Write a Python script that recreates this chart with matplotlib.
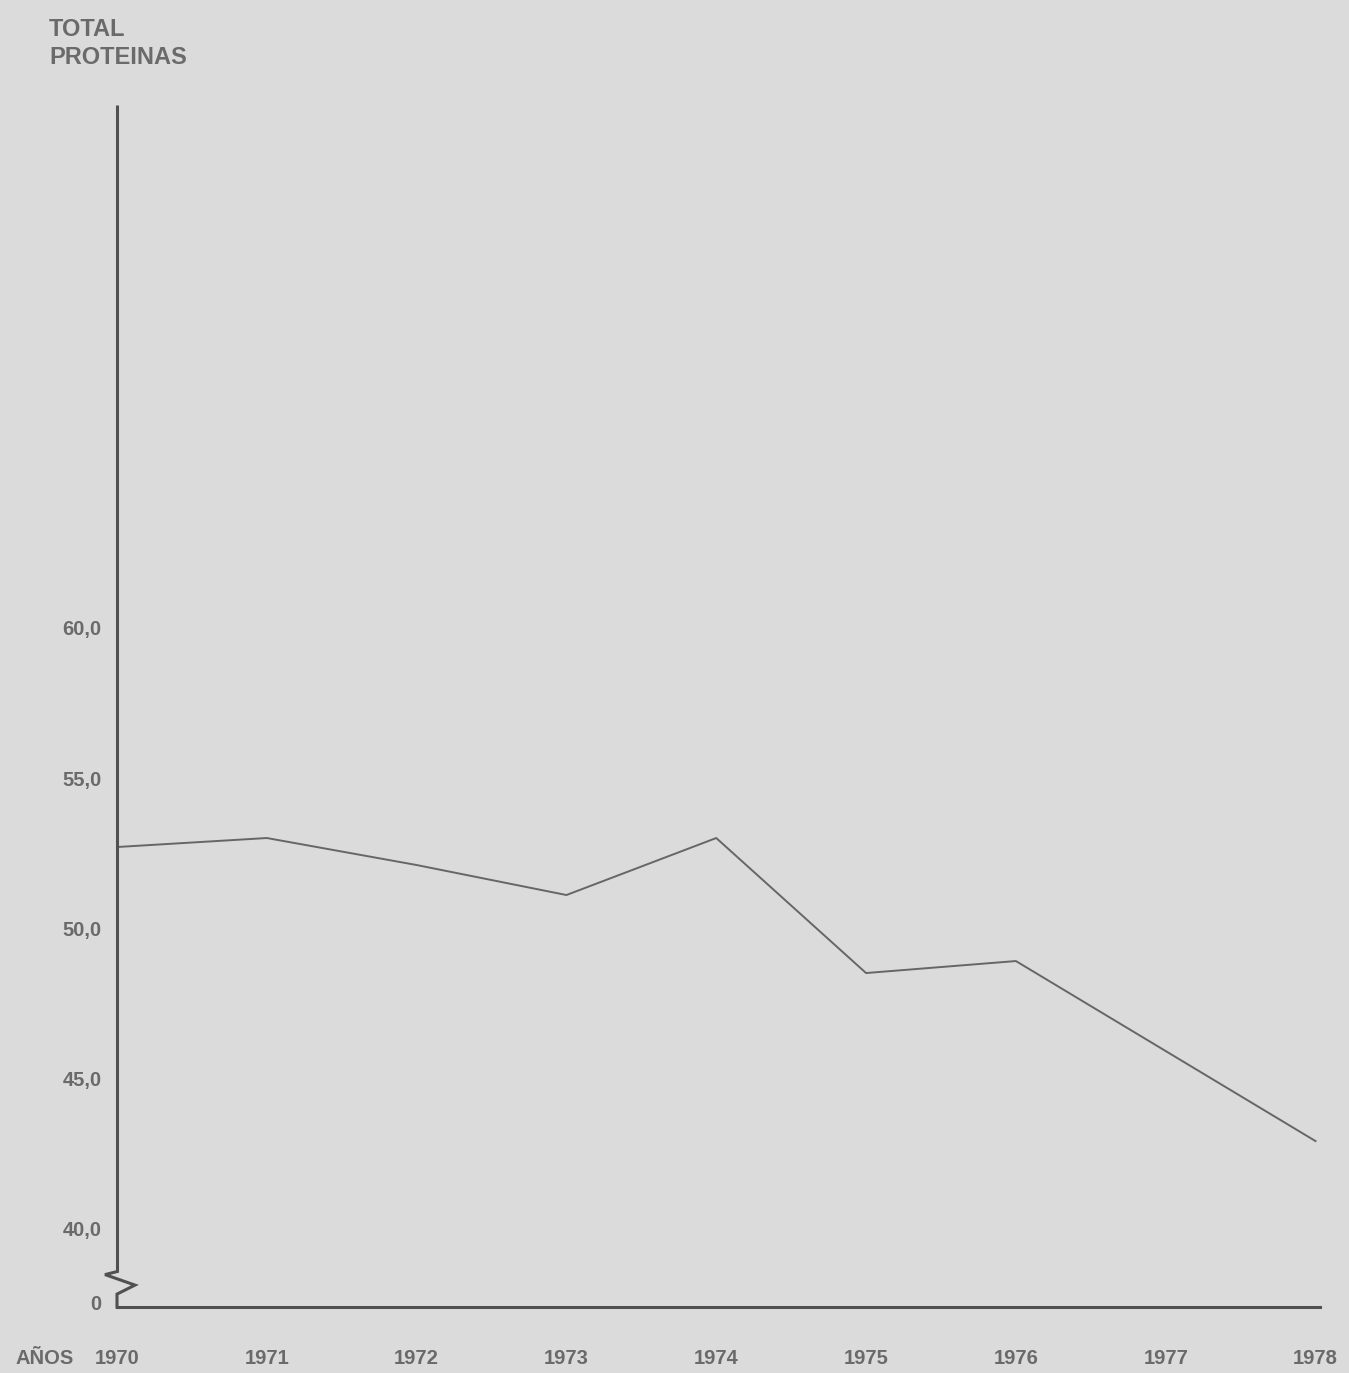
import matplotlib as mpl
mpl.use("Agg")
import matplotlib.pyplot as plt
from matplotlib.font_manager import FontProperties

years = [1970, 1971, 1972, 1973, 1974, 1975, 1976, 1977, 1978]
proteinas = [52.7, 53.0, 52.1, 51.1, 53.0, 48.5, 48.9, 45.9, 42.9]
y_ticks = [40, 45, 50, 55, 60]
y_tick_labels = ["40,0", "45,0", "50,0", "55,0", "60,0"]
x_tick_labels = ["1970", "1971", "1972", "1973", "1974", "1975", "1976", "1977", "1978"]

bg = "#dbdbdb"
txt = "#6a6a6a"
axis_col = "#505050"
fam = ["Liberation Sans", "DejaVu Sans"]
fp_tick = FontProperties(family=fam, weight="bold", size=14.5)

fig = plt.figure(figsize=(13.49, 13.73), dpi=100)
fig.patch.set_facecolor(bg)
ax = fig.add_axes([117 / 1349, 1 - 1307 / 1373, (1320 - 117) / 1349, (1307 - 105) / 1373])
ax.set_facecolor(bg)

ax.plot(years, proteinas, color="#666666", linewidth=1.4)

ax.set_xlim(1970, 1978.03)
ax.set_ylim(37.37, 77.43)

for s in ["top", "right", "left"]:
    ax.spines[s].set_visible(False)
ax.spines["bottom"].set_color(axis_col)
ax.spines["bottom"].set_linewidth(2.2)

# eje vertical con corte (zigzag) cerca del cero
ax.plot([1970, 1970], [77.43, 38.55], color=axis_col, lw=2.2, solid_capstyle="butt", clip_on=False)
zx = [1970, 1969.92, 1970.12, 1970, 1970]
zy = [38.55, 38.45, 38.1, 37.8, 37.37]
ax.plot(zx, zy, color=axis_col, lw=2.2, clip_on=False, solid_joinstyle="miter")

ax.set_yticks(y_ticks + [37.53])
ax.set_yticklabels(y_tick_labels + ["0"])
ax.set_xticks(years)
ax.set_xticklabels(x_tick_labels)
ax.tick_params(axis="y", length=0, pad=11, labelcolor=txt)
ax.tick_params(axis="x", length=0, pad=30, labelcolor=txt)
for lab in ax.get_xticklabels() + ax.get_yticklabels():
    lab.set_fontproperties(fp_tick)

fig.text(15 / 1349, 1 - 1358 / 1373, "AÑOS", color=txt, va="center", ha="left",
         fontproperties=fp_tick)
for i, linea in enumerate(["TOTAL", "PROTEINAS"]):
    fig.text(49 / 1349, 1 - (29 + 28 * i) / 1373, linea, color=txt, family="Liberation Sans",
             fontweight="bold", fontsize=17, va="center", ha="left")

fig.savefig("out.png", dpi=100, facecolor=bg)
